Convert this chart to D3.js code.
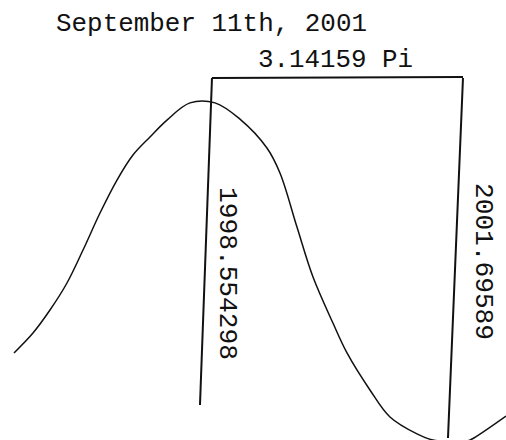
<!DOCTYPE html>
<html>
<head>
<meta charset="utf-8">
<script src="https://cdn.jsdelivr.net/npm/d3@7"></script>
<style>
  html, body { margin: 0; padding: 0; background: #fff; }
  svg { display: block; }
  text { font-family: "Liberation Mono", "Courier New", monospace; fill: #111; }
</style>
</head>
<body>
<svg id="chart" width="506" height="440"></svg>
<script>
// ---- data ----
const years = [1996.137, 1996.376, 1996.590, 1996.804, 1997.006, 1997.220, 1997.434, 1997.635,
               1997.849, 1998.063, 1998.353, 1998.668, 1998.982, 1999.322, 1999.486, 1999.700,
               1999.902, 2000.153, 2000.330, 2000.619, 2000.871, 2001.211, 2001.412, 2001.841,
               2001.904, 2002.332];
const values = [-0.485, -0.367, -0.231, -0.071, 0.124, 0.343, 0.538, 0.686,
                0.793, 0.893, 0.995, 0.995, 0.899, 0.728, 0.580, 0.260,
                -0.036, -0.308, -0.485, -0.704, -0.864, -0.964, -1.0, -1.006,
                -0.994, -0.858];
const markerYears = [1998.554298, 2001.69589];
const markerLabels = ["1998.554298", "2001.69589"];
const spanLabel = "3.14159 Pi";
const title = "September 11th, 2001";

// ---- scales ----
const x = d3.scaleLinear().domain([1996.137, 2002.332]).range([14, 506]);
const y = d3.scaleLinear().domain([-1, 1]).range([440, 102]);

const svg = d3.select("#chart");

// curve
const line = d3.line()
  .x((d, i) => x(years[i]))
  .y((d, i) => y(values[i]))
  .curve(d3.curveCatmullRom.alpha(0.5));

svg.append("path")
  .datum(values)
  .attr("d", line)
  .attr("fill", "none")
  .attr("stroke", "#111")
  .attr("stroke-width", 1.5);

// marker lines (slightly skewed, like the scan)
const skew = [6, 7.5];
const bottoms = [405, 438];
const topY = 78;
markerYears.forEach((yr, i) => {
  svg.append("line")
    .attr("x1", x(yr) + skew[i]).attr("y1", topY)
    .attr("x2", x(yr) - skew[i]).attr("y2", bottoms[i])
    .attr("stroke", "#111").attr("stroke-width", 2);
});

// bracket across the top
svg.append("line")
  .attr("x1", x(markerYears[0]) + skew[0]).attr("y1", topY)
  .attr("x2", x(markerYears[1]) + skew[1]).attr("y2", topY - 1)
  .attr("stroke", "#111").attr("stroke-width", 2);

// rotated marker labels
const labelPos = [{bx: 220, ty: 187}, {bx: 476, ty: 183}];
markerLabels.forEach((t, i) => {
  svg.append("text")
    .attr("transform", `translate(${labelPos[i].bx},${labelPos[i].ty}) rotate(90)`)
    .attr("font-size", 25)
    .attr("textLength", i === 0 ? 173 : 157)
    .attr("lengthAdjust", "spacingAndGlyphs")
    .text(t);
});

// span label
svg.append("text")
  .attr("x", 258).attr("y", 67)
  .attr("font-size", 25)
  .attr("textLength", 155)
  .attr("lengthAdjust", "spacingAndGlyphs")
  .text(spanLabel);

// title
svg.append("text")
  .attr("x", 56).attr("y", 31)
  .attr("font-size", 25)
  .attr("textLength", 311)
  .attr("lengthAdjust", "spacingAndGlyphs")
  .text(title);
</script>
</body>
</html>
